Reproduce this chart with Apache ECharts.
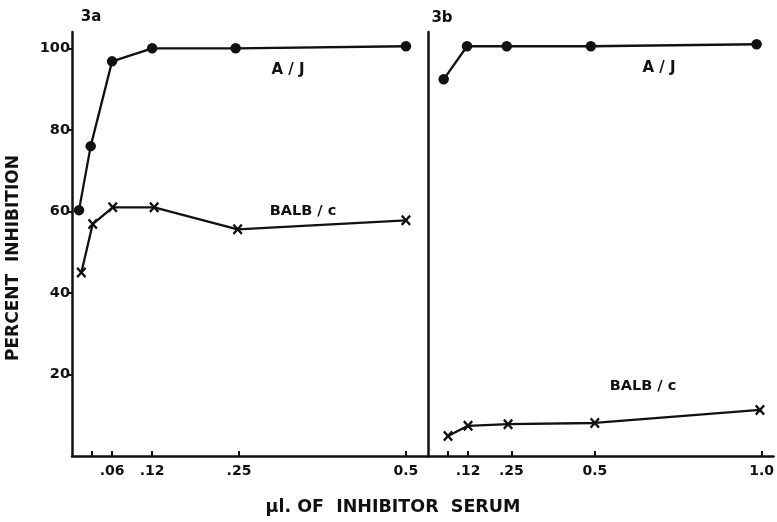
<!DOCTYPE html>
<html>
<head>
<meta charset="utf-8">
<script src="https://cdn.jsdelivr.net/npm/echarts@6/dist/echarts.min.js"></script>
<style>
  html, body { margin: 0; padding: 0; background: #fff; }
  #main { width: 777px; height: 522px; }
</style>
</head>
<body>
<div id="main"></div>
<script>
// panel 3a
var doseAJ_a = [0.0105, 0.028, 0.06, 0.12, 0.245, 0.5];
var inhibAJ_a = [60.3, 76, 96.8, 100, 100, 100.5];
var doseBALB_a = [0.014, 0.031, 0.061, 0.123, 0.248, 0.5];
var inhibBALB_a = [45, 56.9, 61, 61, 55.6, 57.8];
// panel 3b
var doseAJ_b = [0.047, 0.117, 0.236, 0.488, 0.985];
var inhibAJ_b = [92.4, 100.5, 100.5, 100.5, 101];
var doseBALB_b = [0.06, 0.12, 0.24, 0.5, 0.995];
var inhibBALB_b = [4.9, 7.4, 7.8, 8.1, 11.3];

var yTicks = [20, 40, 60, 80, 100];
var xTicks_a = [0.03, 0.06, 0.12, 0.25, 0.5];
var xLabels_a = [0.06, 0.12, 0.25, 0.5];
var xTicks_b = [0.06, 0.12, 0.25, 0.5, 1.0];
var xLabels_b = [0.12, 0.25, 0.5, 1.0];
var labelText = { 0.06: '.06', 0.12: '.12', 0.25: '.25', 0.5: '0.5', 1: '1.0' };

var chartDom = document.getElementById('main');
var myChart = echarts.init(chartDom);
var option;

var font = 'DejaVu Sans';
var ink = '#111';
// bold "x" marker
var cross = 'path://M0,1.6L1.6,0L5,3.4L8.4,0L10,1.6L6.6,5L10,8.4L8.4,10L5,6.6L1.6,10L0,8.4L3.4,5Z';

function pairs(xs, ys) {
    var out = [];
    for (var i = 0; i < xs.length; i++) out.push([xs[i], ys[i]]);
    return out;
}

function xAxisFor(idx, max, ticks, labels) {
    return {
        type: 'value',
        gridIndex: idx,
        min: 0,
        max: max,
        splitLine: { show: false },
        axisLine: { show: true, onZero: false, lineStyle: { color: ink, width: 2.5 } },
        axisTick: { show: true, inside: true, length: 5, customValues: ticks, lineStyle: { color: ink, width: 2 } },
        axisLabel: {
            customValues: labels,
            margin: 8,
            color: ink,
            fontFamily: font,
            fontWeight: 'bold',
            fontSize: 14,
            formatter: function (v) { return labelText[v] || ''; }
        }
    };
}

function yAxisFor(idx, showTicks) {
    return {
        type: 'value',
        gridIndex: idx,
        min: 0,
        max: 104,
        splitLine: { show: false },
        axisLine: { show: true, lineStyle: { color: ink, width: 2.5 } },
        axisTick: { show: showTicks, length: 5, customValues: yTicks, lineStyle: { color: ink, width: 2 } },
        axisLabel: {
            show: showTicks,
            customValues: yTicks,
            margin: 2,
            color: ink,
            fontFamily: font,
            fontWeight: 'bold',
            fontSize: 14.5
        }
    };
}

function lineSeries(idx, data, symbol, size) {
    return {
        type: 'line',
        xAxisIndex: idx,
        yAxisIndex: idx,
        data: data,
        symbol: symbol,
        symbolSize: size,
        showAllSymbol: true,
        lineStyle: { color: ink, width: 2.3 },
        itemStyle: { color: ink },
        animation: false
    };
}

function note(text, x, y, size) {
    return {
        type: 'text', x: x, y: y,
        style: { text: text, fill: ink, font: 'bold ' + (size || 14) + 'px "DejaVu Sans"', align: 'center', verticalAlign: 'middle' }
    };
}

option = {
    backgroundColor: '#fff',
    animation: false,
    grid: [
        { left: 72, right: 349, top: 32, bottom: 66 },
        { left: 428, right: 2, top: 32, bottom: 66 }
    ],
    xAxis: [
        xAxisFor(0, 0.533, xTicks_a, xLabels_a),
        xAxisFor(1, 1.036, xTicks_b, xLabels_b)
    ],
    yAxis: [yAxisFor(0, true), yAxisFor(1, false)],
    series: [
        lineSeries(0, pairs(doseAJ_a, inhibAJ_a), 'circle', 10.5),
        lineSeries(0, pairs(doseBALB_a, inhibBALB_a), cross, [10, 11]),
        lineSeries(1, pairs(doseAJ_b, inhibAJ_b), 'circle', 10.5),
        lineSeries(1, pairs(doseBALB_b, inhibBALB_b), cross, [10, 11])
    ],
    graphic: [
        note('3a', 91, 17, 15),
        note('3b', 442, 18, 15),
        note('A / J', 288, 70, 15),
        note('BALB / c', 303, 211, 14.5),
        note('A / J', 659, 68, 15),
        note('BALB / c', 643, 386, 14.5),
        {
            type: 'text', x: 14, y: 258, rotation: Math.PI / 2,
            style: { text: 'PERCENT  INHIBITION', fill: ink, font: 'bold 17px "DejaVu Sans"', align: 'center', verticalAlign: 'middle' }
        },
        {
            type: 'text', x: 393, y: 507,
            style: { text: '\u03bcl. OF  INHIBITOR  SERUM', fill: ink, font: 'bold 17.5px "DejaVu Sans"', align: 'center', verticalAlign: 'middle' }
        }
    ]
};

option && myChart.setOption(option);
</script>
</body>
</html>
